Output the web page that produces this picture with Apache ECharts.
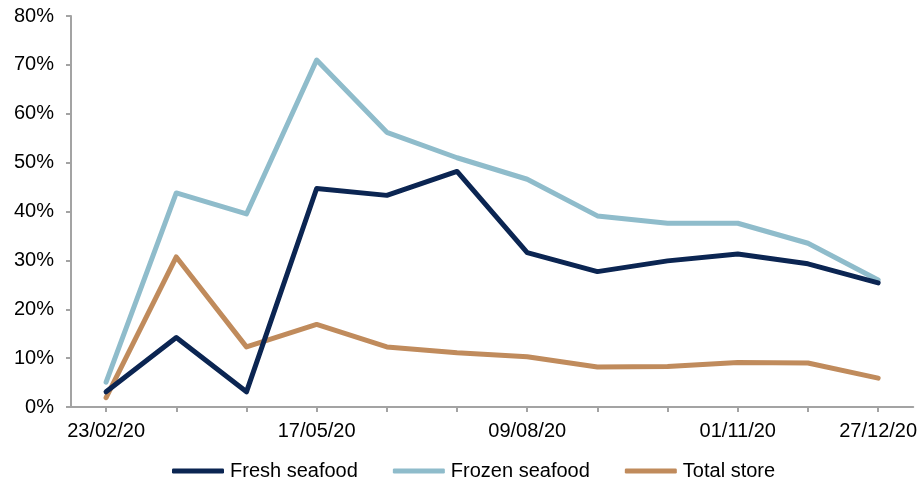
<!DOCTYPE html>
<html>
<head>
<meta charset="utf-8">
<script src="https://cdn.jsdelivr.net/npm/echarts@6/dist/echarts.min.js"></script>
<style>
  html, body { margin: 0; padding: 0; background: #ffffff; }
  #chart { width: 920px; height: 479px; }
</style>
</head>
<body>
<div id="chart"></div>
<script>
// Weekly periods (4-week steps through 2020)
const weeks = ['23/02/20', '22/03/20', '19/04/20', '17/05/20', '14/06/20', '12/07/20',
               '09/08/20', '06/09/20', '04/10/20', '01/11/20', '29/11/20', '27/12/20'];

// Year-on-year growth, %
const freshSeafood  = [3.1, 14.2, 3.1, 44.7, 43.3, 48.2, 31.6, 27.7, 29.9, 31.3, 29.3, 25.4];
const frozenSeafood = [5.1, 43.8, 39.5, 71.0, 56.2, 51.0, 46.6, 39.1, 37.6, 37.6, 33.5, 26.0];
const totalStore    = [1.9, 30.7, 12.3, 16.9, 12.3, 11.1, 10.3, 8.2, 8.3, 9.1, 9.0, 5.9];

// Category indexes that carry a date label
const labelledWeeks = [0, 3, 6, 9, 11];

const font = "'Liberation Sans', Arial, sans-serif";
const axisGrey = '#a3a3a3';

const chart = echarts.init(document.getElementById('chart'), null, { renderer: 'canvas' });

const lineSeries = (name, data, color) => ({
  name: name,
  type: 'line',
  data: data,
  symbol: 'none',
  showSymbol: false,
  smooth: false,
  lineStyle: { color: color, width: 5, cap: 'round', join: 'round' },
  itemStyle: { color: color },
  emphasis: { disabled: true }
});

chart.setOption({
  animation: false,
  backgroundColor: '#ffffff',
  grid: { left: 71, right: 5, top: 16, bottom: 72, containLabel: false },
  legend: {
    left: 167,
    top: 456,
    icon: 'roundRect',
    itemWidth: 52,
    itemHeight: 5,
    itemGap: 35,
    textStyle: { fontFamily: font, fontSize: 20, color: '#000000', padding: [0, 0, 0, 1] },
    data: ['Fresh seafood', 'Frozen seafood', 'Total store']
  },
  xAxis: {
    type: 'category',
    data: weeks,
    boundaryGap: true,
    axisLine: { lineStyle: { color: axisGrey, width: 2 } },
    axisTick: {
      show: true,
      alignWithLabel: true,
      interval: 0,
      length: 5,
      lineStyle: { color: axisGrey, width: 2 }
    },
    axisLabel: {
      interval: (idx) => labelledWeeks.includes(idx),
      margin: 14,
      fontFamily: font,
      fontSize: 20,
      color: '#000000'
    },
    splitLine: { show: false }
  },
  yAxis: {
    type: 'value',
    min: 0,
    max: 80,
    interval: 10,
    axisLine: { show: true, lineStyle: { color: axisGrey, width: 2 } },
    axisTick: { show: true, length: 5, lineStyle: { color: axisGrey, width: 2 } },
    axisLabel: {
      formatter: '{value}%',
      margin: 17,
      fontFamily: font,
      fontSize: 20,
      color: '#000000'
    },
    splitLine: { show: false }
  },
  series: [
    lineSeries('Total store', totalStore, '#c08b5c'),
    lineSeries('Frozen seafood', frozenSeafood, '#8fbccb'),
    lineSeries('Fresh seafood', freshSeafood, '#0b2552')
  ]
});
</script>
</body>
</html>
